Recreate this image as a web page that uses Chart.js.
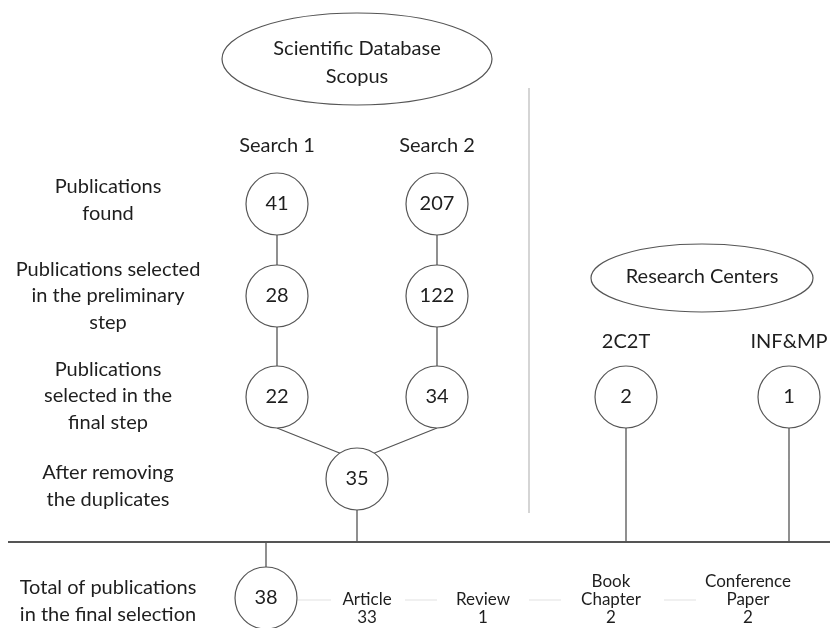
<!DOCTYPE html>
<html>
<head>
<meta charset="utf-8">
<script src="https://cdn.jsdelivr.net/npm/chart.js@4"></script>
<style>
  html, body { margin: 0; padding: 0; background: #fff; }
  canvas { display: block; }
</style>
</head>
<body>
<canvas id="flowChart" width="830" height="628"></canvas>
<script>
// ---- data ----
const searchNames = ["Search 1", "Search 2"];
const search1Counts = [41, 28, 22];
const search2Counts = [207, 122, 34];
const mergedCount = 35;
const totalCount = 38;
const centerNames = ["2C2T", "INF&MP"];
const centerCounts = [2, 1];
const typeNames = [["Article"], ["Review"], ["Book", "Chapter"], ["Conference", "Paper"]];
const typeCounts = [33, 1, 2, 2];
const stepLabels = [
  ["Publications", "found"],
  ["Publications selected", "in the preliminary", "step"],
  ["Publications", "selected in the", "final step"],
  ["After removing", "the duplicates"],
  ["Total of publications", "in the final selection"],
];
const sourceTitles = [["Scientific Database", "Scopus"], ["Research Centers"]];

// ---- layout (diagram units, mapped by the scales) ----
const colX = { s1: 277, s2: 437, merged: 357, total: 266, c1: 626, c2: 789 };
const rowY = [204, 296, 397, 479, 598];
const labelY = [200, 296, 396, 486, 601];
const busY = 542;
const typeX = [367, 483, 611, 748];
const NODE_R = 31;
const FONT = "Lato, 'Open Sans', sans-serif";

const nodes = [];
search1Counts.forEach(function (v, i) { nodes.push({ x: colX.s1, y: rowY[i], v: v }); });
search2Counts.forEach(function (v, i) { nodes.push({ x: colX.s2, y: rowY[i], v: v }); });
nodes.push({ x: colX.merged, y: rowY[3], v: mergedCount });
nodes.push({ x: colX.total, y: rowY[4], v: totalCount });
nodes.push({ x: colX.c1, y: rowY[2], v: centerCounts[0] });
nodes.push({ x: colX.c2, y: rowY[2], v: centerCounts[1] });

// connector segments (null breaks the line)
function seg(x1, y1, x2, y2) { return [{ x: x1, y: y1 }, { x: x2, y: y2 }, { x: null, y: null }]; }
let edges = [];
[colX.s1, colX.s2].forEach(function (x) {
  edges = edges.concat(seg(x, rowY[0], x, rowY[1]), seg(x, rowY[1], x, rowY[2]));
});
edges = edges.concat(
  seg(colX.s1, rowY[2] + NODE_R, colX.merged, rowY[3] - 19),
  seg(colX.s2, rowY[2] + NODE_R, colX.merged, rowY[3] - 19),
  seg(colX.merged, rowY[3], colX.merged, busY),
  seg(colX.c1, rowY[2], colX.c1, busY),
  seg(colX.c2, rowY[2], colX.c2, busY),
  seg(colX.total, busY, colX.total, rowY[4])
);
const bus = [{ x: 8, y: busY }, { x: 830, y: busY }];
const divider = [{ x: 529, y: 88 }, { x: 529, y: 513 }];
const typeY = 600;
let typeLinks = [];
const linkStarts = [297, 405, 529, 664];
const linkEnds = [331, 437, 561, 696];
linkStarts.forEach(function (s, i) { typeLinks = typeLinks.concat(seg(s, typeY, linkEnds[i], typeY)); });

const textPlugin = {
  id: "flowText",
  afterDatasetsDraw: function (chart) {
    const ctx = chart.ctx;
    const xs = chart.scales.x;
    const ys = chart.scales.y;
    const px = function (v) { return xs.getPixelForValue(v); };
    const py = function (v) { return ys.getPixelForValue(v); };

    function lines(arr, x, y, lh, size) {
      ctx.font = size + "px " + FONT;
      const top = y - (arr.length - 1) * lh / 2;
      arr.forEach(function (t, i) { ctx.fillText(t, px(x), py(top + i * lh)); });
    }

    ctx.save();
    ctx.textAlign = "center";
    ctx.textBaseline = "middle";
    ctx.fillStyle = "#1e1e1e";

    // ellipses
    ctx.strokeStyle = "#555";
    ctx.lineWidth = 1.2;
    ctx.beginPath();
    ctx.ellipse(px(357), py(59), 135, 46, 0, 0, Math.PI * 2);
    ctx.stroke();
    ctx.beginPath();
    ctx.ellipse(px(702), py(278), 111, 34, 0, 0, Math.PI * 2);
    ctx.stroke();
    lines(sourceTitles[0], 357, 63, 28, 20);
    lines(sourceTitles[1], 702, 277, 26, 20);

    // column headings
    ctx.font = "20px " + FONT;
    ctx.fillText(searchNames[0], px(colX.s1), py(146));
    ctx.fillText(searchNames[1], px(colX.s2), py(146));
    ctx.fillText(centerNames[0], px(colX.c1), py(342));
    ctx.fillText(centerNames[1], px(colX.c2), py(342));

    // step labels
    stepLabels.forEach(function (arr, i) {
      lines(arr, 108, labelY[i], 26.5, 20);
    });

    // node values
    nodes.forEach(function (n) {
      ctx.font = "20px " + FONT;
      ctx.fillText(String(n.v), px(n.x), py(n.y));
    });

    // publication types (bottom-aligned, count on the last line)
    typeNames.forEach(function (arr, i) {
      const all = arr.concat([String(typeCounts[i])]);
      lines(all, typeX[i], 618 - (all.length - 1) * 18 / 2, 18, 17);
    });
    ctx.restore();
  },
};

new Chart(document.getElementById("flowChart"), {
  type: "scatter",
  data: {
    datasets: [
      {
        data: nodes.map(function (n) { return { x: n.x, y: n.y }; }),
        pointRadius: NODE_R,
        pointHoverRadius: NODE_R,
        pointBackgroundColor: "#fff",
        pointBorderColor: "#555",
        pointBorderWidth: 1.2,
        showLine: false,
        clip: false,
        order: 1,
      },
      {
        data: edges,
        showLine: true,
        spanGaps: false,
        borderColor: "#555",
        borderWidth: 1.3,
        pointRadius: 0,
        order: 3,
      },
      {
        data: bus,
        showLine: true,
        borderColor: "#555",
        borderWidth: 2,
        pointRadius: 0,
        order: 3,
      },
      {
        data: divider,
        showLine: true,
        borderColor: "#cfcfcf",
        borderWidth: 1,
        pointRadius: 0,
        order: 4,
      },
      {
        data: typeLinks,
        showLine: true,
        spanGaps: false,
        borderColor: "#ececec",
        borderWidth: 1.5,
        pointRadius: 0,
        order: 4,
      },
    ],
  },
  options: {
    responsive: false,
    animation: false,
    devicePixelRatio: 1,
    layout: { padding: 0, autoPadding: false },
    plugins: { legend: { display: false }, tooltip: { enabled: false } },
    events: [],
    scales: {
      x: { type: "linear", min: 0, max: 830, display: false },
      y: { type: "linear", min: 0, max: 628, reverse: true, display: false },
    },
  },
  plugins: [textPlugin],
});
</script>
</body>
</html>
